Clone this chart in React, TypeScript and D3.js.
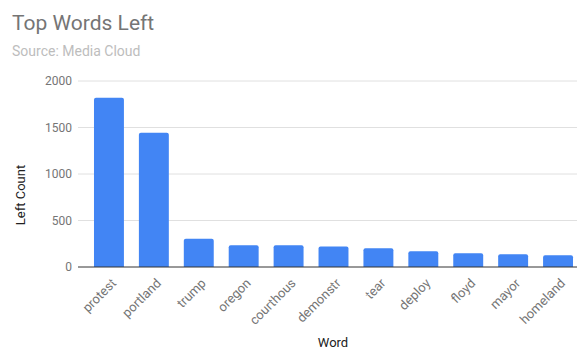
import React from "react";
import * as d3 from "d3";

const words = ["protest", "portland", "trump", "oregon", "courthous", "demonstr", "tear", "deploy", "floyd", "mayor", "homeland"];
const counts = [1820, 1444, 303, 234, 234, 220, 202, 170, 148, 137, 127];
const yTicks = [0, 500, 1000, 1500, 2000];

const W = 577;
const H = 349;
const left = 78;
const top = 81;
const bottom = 267;

export default function App() {
  const x = d3.scaleBand<string>().domain(words).range([86.5, 580.5]).paddingInner(1 / 3).paddingOuter(1 / 6);
  const y = d3.scaleLinear().domain([0, 2000]).range([bottom, top]);
  const font = "Roboto, Arial, sans-serif";
  return (
    <svg width={W} height={H} style={{ position: "absolute", left: 0, top: 0, background: "#fff" }} fontFamily={font}>
      <text x={12} y={30} fontSize={21} fill="#757575">Top Words Left</text>
      <text x={12} y={56} fontSize={14} fill="#bdbdbd">Source: Media Cloud</text>
      {yTicks.map((t) => (
        <g key={t}>
          {t !== 0 && <line x1={left} x2={W} y1={y(t)} y2={y(t)} stroke="#e0e0e0" strokeWidth={1} />}
          <text x={72} y={y(t)} dy="0.35em" textAnchor="end" fontSize={12} fill="#757575">{t}</text>
        </g>
      ))}
      {words.map((w, i) => {
        const bx = x(w)!;
        const bw = x.bandwidth();
        const by = y(counts[i]);
        const r = 2;
        const path = `M${bx},${bottom} V${by + r} Q${bx},${by} ${bx + r},${by} H${bx + bw - r} Q${bx + bw},${by} ${bx + bw},${by + r} V${bottom} Z`;
        return <path key={w} d={path} fill="#4285f4" />;
      })}
      <line x1={left} x2={W} y1={bottom} y2={bottom} stroke="#333" strokeWidth={1} />
      {words.map((w) => {
        const cx = x(w)! + x.bandwidth() / 2;
        return (
          <text key={w} transform={`translate(${cx + 8},${bottom + 17}) rotate(-45)`} textAnchor="end" fontSize={13} fill="#757575">{w}</text>
        );
      })}
      <text transform={`translate(25,195) rotate(-90)`} textAnchor="middle" fontSize={13} fill="#212121">Left Count</text>
      <text x={333} y={347} textAnchor="middle" fontSize={13} fill="#212121">Word</text>
    </svg>
  );
}
